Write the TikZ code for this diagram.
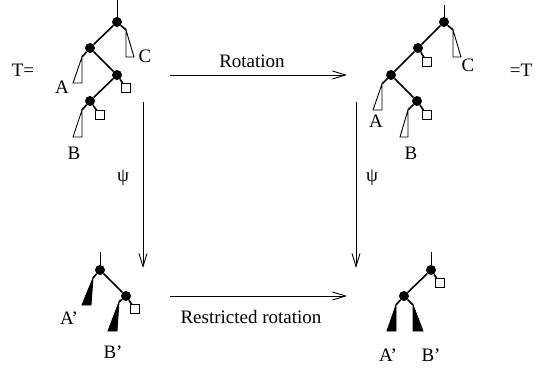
\documentclass[tikz,border=0pt]{standalone}
\usepackage{fontspec}
\setmainfont{Liberation Serif}
\usetikzlibrary{arrows.meta}

\begin{document}
\begin{tikzpicture}[
    x=1pt, y=-1pt,
    dot/.style={circle, fill, inner sep=0pt, minimum size=10pt},
    leaf/.style={rectangle, draw, fill=white, inner sep=0pt, minimum size=8.5pt, line width=0.9pt},
    edge/.style={line width=1.6pt},
    stem/.style={line width=1pt},
    subtree/.style={draw, line width=0.9pt},
    wedge/.style={draw, fill, line width=0.9pt},
    arrow/.style={-{Straight Barb[length=13pt, width=8pt]}, line width=0.9pt},
    lbl/.style={font=\fontsize{19}{22}\selectfont, inner sep=0pt},
]
    \useasboundingbox (0,0) rectangle (535,371);

    % Tree T (top left)
    \coordinate (Ltop) at (117,0);
    \node[dot] (L1) at (117,22) {};
    \node[dot] (L2) at (90,48) {};
    \node[dot] (L3) at (117,75) {};
    \node[dot] (L4) at (90,101) {};
    \node[leaf] (Lq1) at (126,88) {};
    \node[leaf] (Lq2) at (100,115) {};
    \coordinate (LC) at (126,30);
    \coordinate (LA) at (82,57);
    \coordinate (LB) at (82,110);
    \draw[stem] (Ltop) -- (L1);
    \draw[edge] (L1) -- (L2) -- (L3) -- (L4);
    \draw[edge] (L1) -- (LC);
    \draw[edge] (L2) -- (LA);
    \draw[edge] (L3) -- (Lq1);
    \draw[edge] (L4) -- (Lq2);
    \draw[edge] (L4) -- (LB);
    \draw[subtree] (LC) -- ++(0,27) -- ++(8,0) -- cycle;
    \draw[subtree] (LA) -- ++(-9,26) -- ++(9,0) -- cycle;
    \draw[subtree] (LB) -- ++(-9,27) -- ++(9,0) -- cycle;
    \node[lbl] (Teq) at (23,70) {T=};
    \node[lbl] (LClbl) at (145,56) {C};
    \node[lbl] (LAlbl) at (62,87) {A};
    \node[lbl] (LBlbl) at (74,153) {B};

    % Rotated tree (top right)
    \coordinate (Rtop) at (444,5);
    \node[dot] (R1) at (444,22) {};
    \node[dot] (R2) at (418,48) {};
    \node[dot] (R3) at (391,75) {};
    \node[dot] (R4) at (417,101) {};
    \node[leaf] (Rq1) at (427,62) {};
    \node[leaf] (Rq2) at (427,115) {};
    \coordinate (RC) at (453,30);
    \coordinate (RA) at (382,84);
    \coordinate (RB) at (408,110);
    \draw[stem] (Rtop) -- (R1);
    \draw[edge] (R1) -- (R2) -- (R3) -- (R4);
    \draw[edge] (R1) -- (RC);
    \draw[edge] (R2) -- (Rq1);
    \draw[edge] (R3) -- (RA);
    \draw[edge] (R4) -- (Rq2);
    \draw[edge] (R4) -- (RB);
    \draw[subtree] (RC) -- ++(0,27) -- ++(8,0) -- cycle;
    \draw[subtree] (RA) -- ++(-9,26) -- ++(9,0) -- cycle;
    \draw[subtree] (RB) -- ++(-8,27) -- ++(8,0) -- cycle;
    \node[lbl] (RClbl) at (468,65) {C};
    \node[lbl] (RAlbl) at (376,121) {A};
    \node[lbl] (RBlbl) at (411,153) {B};
    \node[lbl] (eqT) at (521,70) {=T};

    % Image under psi (bottom left)
    \coordinate (Ptop) at (100,252);
    \node[dot] (P1) at (100,270) {};
    \node[dot] (P2) at (126,296) {};
    \node[leaf] (Pq) at (135,309) {};
    \coordinate (PA) at (93,278);
    \coordinate (PB) at (119,302);
    \draw[stem] (Ptop) -- (P1);
    \draw[edge] (P1) -- (P2);
    \draw[edge] (P1) -- (PA);
    \draw[edge] (P2) -- (PB);
    \draw[edge] (P2) -- (Pq);
    \draw[wedge] (PA) -- ++(-11,27) -- ++(9,0) -- cycle;
    \draw[wedge] (PB) -- ++(-11,29) -- ++(9,0) -- cycle;
    \node[lbl] (PAlbl) at (69,318) {A’};
    \node[lbl] (PBlbl) at (113,352) {B’};

    % Image under psi (bottom right)
    \coordinate (Qtop) at (431,252);
    \node[dot] (Q1) at (431,270) {};
    \node[dot] (Q2) at (404,296) {};
    \node[leaf] (Qq) at (440,283) {};
    \coordinate (QA) at (396,305);
    \coordinate (QB) at (413,305);
    \draw[stem] (Qtop) -- (Q1);
    \draw[edge] (Q1) -- (Q2);
    \draw[edge] (Q1) -- (Qq);
    \draw[edge] (Q2) -- (QA);
    \draw[edge] (Q2) -- (QB);
    \draw[wedge] (QA) -- ++(-9,26) -- ++(9,0) -- cycle;
    \draw[wedge] (QB) -- ++(0,26) -- ++(10,0) -- cycle;
    \node[lbl] (QAlbl) at (388,355) {A’};
    \node[lbl] (QBlbl) at (431,355) {B’};

    % Arrows
    \coordinate (rotS) at (170,75);
    \coordinate (rotE) at (347,75);
    \coordinate (psiLS) at (143,102);
    \coordinate (psiLE) at (143,268);
    \coordinate (psiRS) at (356,102);
    \coordinate (psiRE) at (356,268);
    \coordinate (resS) at (170,296);
    \coordinate (resE) at (347,296);
    \draw[arrow] (rotS) -- (rotE);
    \draw[arrow] (psiLS) -- (psiLE);
    \draw[arrow] (psiRS) -- (psiRE);
    \draw[arrow] (resS) -- (resE);
    \node[lbl] (rotlbl) at (252,61) {Rotation};
    \node[lbl] (reslbl) at (251,317) {Restricted rotation};
    \node[lbl] (psiL) at (123,178) {ψ};
    \node[lbl] (psiR) at (372,178) {ψ};
\end{tikzpicture}
\end{document}
